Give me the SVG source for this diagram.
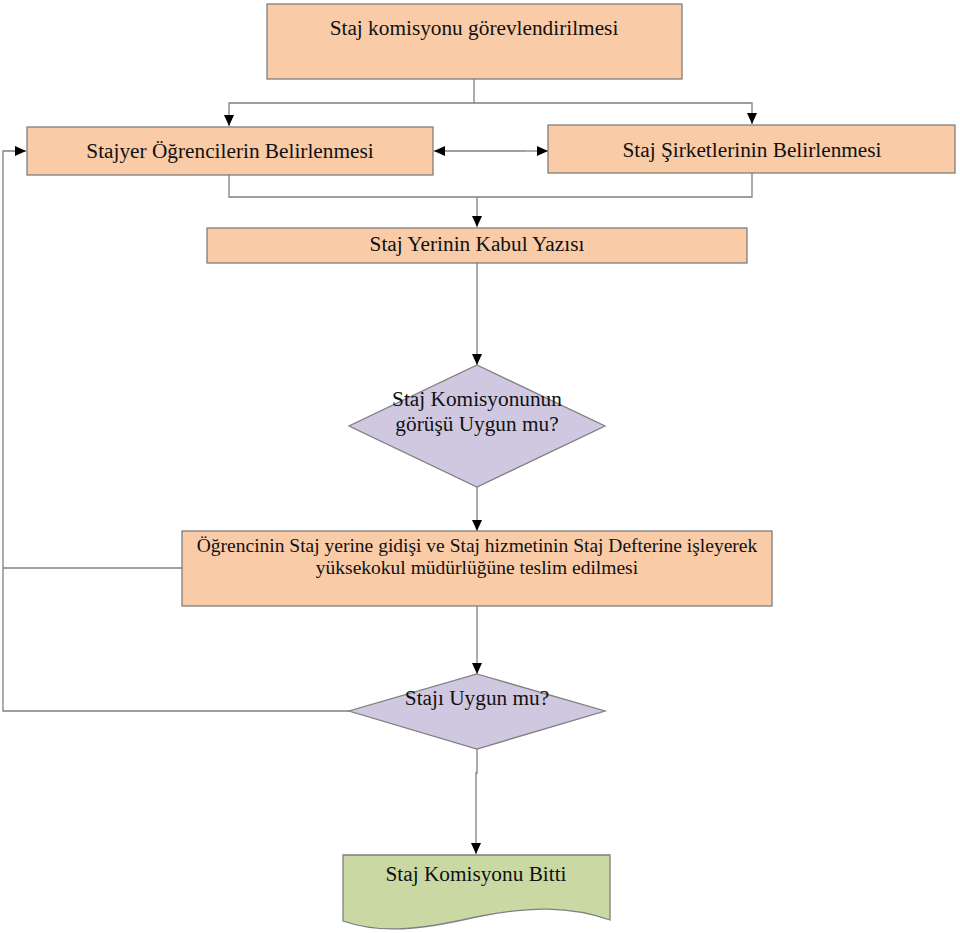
<svg xmlns="http://www.w3.org/2000/svg" width="960" height="933" viewBox="0 0 960 933">
<defs>
<marker id="ah" markerUnits="userSpaceOnUse" markerWidth="12" markerHeight="12" refX="11" refY="5" orient="auto-start-reverse" viewBox="0 0 12 10">
<path d="M0,0 L11,5 L0,10 Z" fill="#000"/>
</marker>
</defs>
<style>
.box{fill:#F9CBA7;stroke:#7f7f7f;stroke-width:1.3}
.dia{fill:#D0C8E0;stroke:#7f7f7f;stroke-width:1.3}
.doc{fill:#CAD9A4;stroke:#7f7f7f;stroke-width:1.3}
.ln{fill:none;stroke:#7f7f7f;stroke-width:1.3}
.arr{fill:none;stroke:#7f7f7f;stroke-width:1.3;marker-end:url(#ah)}
text{font-family:"Liberation Serif","Times New Roman",serif;font-size:21.3px;fill:#111;text-anchor:middle}
.sm{font-size:19.5px}
</style>
<rect width="960" height="933" fill="#fff"/>
<g id="connectors">
<path class="ln" d="M474,79 V103"/>
<path class="arr" d="M474,103 H229 V126"/>
<path class="arr" d="M474,103 H752 V124"/>
<path class="arr" d="M525,151 H548"/>
<path class="arr" d="M525,151 H434"/>
<path class="ln" d="M229,175 V197 H752 V173"/>
<path class="arr" d="M477,197 V227"/>
<path class="arr" d="M477,263 V365"/>
<path class="arr" d="M477,487 V531"/>
<path class="arr" d="M477,606 V674"/>
<path class="arr" d="M477,749 V773 H476 V854"/>
<path class="ln" d="M182,568 H3"/>
<path class="arr" d="M349,711 H3 V151 H26"/>
</g>
<g id="n1"><rect class="box" x="267" y="4" width="415" height="75"/><text x="474" y="35">Staj komisyonu görevlendirilmesi</text></g>
<g id="n2"><rect class="box" x="27" y="127" width="406" height="48"/><text x="230" y="158">Stajyer Öğrencilerin Belirlenmesi</text></g>
<g id="n3"><rect class="box" x="548" y="125" width="407" height="48"/><text x="752" y="157">Staj Şirketlerinin Belirlenmesi</text></g>
<g id="n4"><rect class="box" x="207" y="228" width="540" height="35"/><text x="477" y="251">Staj Yerinin Kabul Yazısı</text></g>
<g id="n5"><polygon class="dia" points="477,365 605,426 477,487 349,426"/><text x="477" y="406">Staj Komisyonunun</text><text x="477" y="431">görüşü Uygun mu?</text></g>
<g id="n6"><rect class="box" x="182" y="531" width="590" height="75"/><text class="sm" x="477" y="552">Öğrencinin Staj yerine gidişi ve Staj hizmetinin Staj Defterine işleyerek</text><text class="sm" x="477" y="574">yüksekokul müdürlüğüne teslim edilmesi</text></g>
<g id="n7"><polygon class="dia" points="477,674 605,711 477,749 349,711"/><text x="477" y="705">Stajı Uygun mu?</text></g>
<g id="n8"><path class="doc" d="M343,855 H610 V920 C570,906 530,906 476,917 C420,930 380,934 343,921 Z"/><text x="476" y="881">Staj Komisyonu Bitti</text></g>
</svg>
